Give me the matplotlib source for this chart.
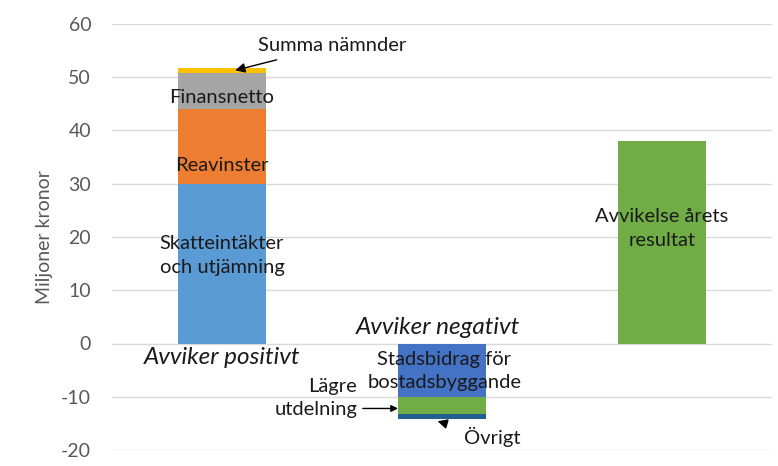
import numpy as np
import matplotlib.pyplot as plt

plt.rcParams['font.family'] = ['Lato', 'DejaVu Sans']

categories = ['Avviker positivt', 'Avviker negativt', 'Avvikelse årets resultat']
pos_labels = ['Skatteintäkter och utjämning', 'Reavinster', 'Finansnetto', 'Summa nämnder']
pos_values = [30, 14, 6.8, 0.9]
neg_labels = ['Stadsbidrag för bostadsbyggande', 'Lägre utdelning', 'Övrigt']
neg_values = [-10, -3.2, -0.9]
result_value = 38

pos_colors = ['#5B9BD5', '#ED7D31', '#A5A5A5', '#FFC000']
neg_colors = ['#4472C4', '#70AD47', '#255E91']
result_color = '#70AD47'

fig = plt.figure(figsize=(7.78, 4.66), dpi=100)
ax = fig.add_axes([112 / 778, 16 / 466, 660 / 778, 426 / 466])

x = np.arange(len(categories))
w = 0.4

bottom = 0
for v, c in zip(pos_values, pos_colors):
    ax.bar(x[0], v, w, bottom=bottom, color=c, zorder=2)
    bottom += v

bottom = 0
for v, c in zip(neg_values, neg_colors):
    ax.bar(x[1], v, w, bottom=bottom, color=c, zorder=2)
    bottom += v

ax.bar(x[2], result_value, w, color=result_color, zorder=2)

ax.set_xlim(-0.5, 2.5)
ax.set_ylim(-20, 60)
ax.set_yticks(range(-20, 61, 10))
ax.set_yticklabels([str(t) for t in range(-20, 61, 10)])
ax.set_xticks([])
ax.grid(axis='y', color='#D9D9D9', linewidth=1, zorder=0)
for s in ax.spines.values():
    s.set_visible(False)
ax.tick_params(axis='y', length=0, labelsize=14, labelcolor='#595959', pad=15)
ax.set_ylabel('Miljoner kronor', fontsize=14, color='#595959', labelpad=6)

tc = '#1a1a1a'
fs = 14.5
ls = 1.45
ax.text(0, 46.2, 'Finansnetto', ha='center', va='center', fontsize=fs, color=tc, zorder=3)
ax.text(0, 33.4, 'Reavinster', ha='center', va='center', fontsize=fs, color=tc, zorder=3)
ax.text(0, 16.5, 'Skatteintäkter\noch utjämning', ha='center', va='center',
        fontsize=fs, color=tc, linespacing=ls, zorder=3)
ax.annotate('Summa nämnder', xy=(0.06, 51.3), xytext=(0.5, 55.9), ha='center', va='center',
            fontsize=fs, color=tc, zorder=3,
            arrowprops=dict(arrowstyle='-|>', color='black', lw=1, shrinkA=8, shrinkB=0))
ax.text(0, -2.6, 'Avviker positivt', ha='center', va='center', fontsize=17.5,
        style='italic', color=tc)
ax.text(0.98, 3.0, 'Avviker negativt', ha='center', va='center', fontsize=17.5,
        style='italic', color=tc)
ax.text(1.01, -5.1, 'Stadsbidrag för\nbostadsbyggande', ha='center', va='center',
        fontsize=fs, color=tc, linespacing=ls, zorder=3)
ax.text(0.615, -10.3, 'Lägre\nutdelning', ha='right', va='center', fontsize=fs, color=tc,
        linespacing=ls)
ax.annotate('', xy=(0.8, -12.2), xytext=(0.64, -12.2),
            arrowprops=dict(arrowstyle='-|>', color='black', lw=1, shrinkA=0, shrinkB=0))
ax.annotate('Övrigt', xy=(0.98, -14.6), xytext=(1.23, -17.6), ha='center', va='center',
            fontsize=fs, color=tc,
            arrowprops=dict(arrowstyle='-|>', color='black', lw=1, shrinkA=12, shrinkB=0))
ax.text(2, 21.6, 'Avvikelse årets\nresultat', ha='center', va='center', fontsize=fs,
        color=tc, linespacing=ls, zorder=3)

fig.savefig('out.png', dpi=100)
